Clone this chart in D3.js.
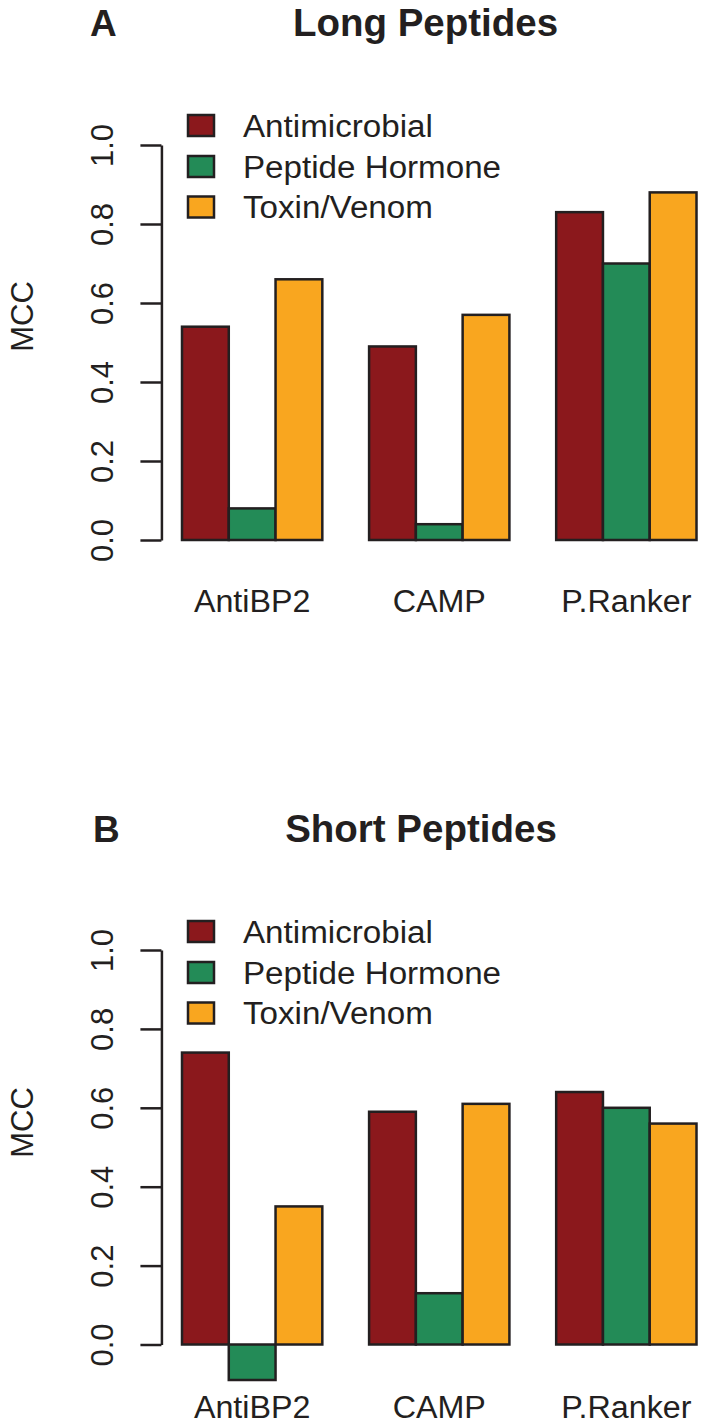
<!DOCTYPE html>
<html>
<head>
<meta charset="utf-8">
<script src="https://cdn.jsdelivr.net/npm/d3@7"></script>
<style>
  html, body { margin: 0; padding: 0; background: #fff; }
  svg { display: block; font-family: "Liberation Sans", Arial, Helvetica, sans-serif; }
</style>
</head>
<body>
<svg id="chart" width="706" height="1426"></svg>
<script>
// ---- data ----
const categories = ["AntiBP2", "CAMP", "P.Ranker"];
const seriesNames = ["Antimicrobial", "Peptide Hormone", "Toxin/Venom"];
const seriesColors = ["#8B181C", "#238B57", "#F9A61F"];

const longAntimicrobial = [0.54, 0.49, 0.83];
const longHormone       = [0.08, 0.04, 0.70];
const longToxin         = [0.66, 0.57, 0.88];

const shortAntimicrobial = [0.74, 0.59, 0.64];
const shortHormone       = [-0.09, 0.13, 0.60];
const shortToxin         = [0.35, 0.61, 0.56];

const yTicks = [0, 0.2, 0.4, 0.6, 0.8, 1.0];
const yLabel = "MCC";

const panels = [
  { letter: "A", title: "Long Peptides", values: [longAntimicrobial, longHormone, longToxin],
    y0: 540, y1: 145, titleX: 425.5, letterX: 90, top: 0 },
  { letter: "B", title: "Short Peptides", values: [shortAntimicrobial, shortHormone, shortToxin],
    y0: 1344.5, y1: 950, titleX: 421, letterX: 93, top: 806 }
];

// ---- drawing ----
const svg = d3.select("#chart");
const ink = "#231F20";
const x = d3.scaleLinear().domain([1, 12]).range([182, 696.5]);
const axisX = x(0.56);

panels.forEach(p => {
  const g = svg.append("g");
  const y = d3.scaleLinear().domain([0, 1]).range([p.y0, p.y1]);

  // titles
  g.append("text").attr("x", p.letterX).attr("y", p.top + 36)
    .attr("font-size", 37).attr("font-weight", "bold").attr("fill", ink).text(p.letter);
  g.append("text").attr("x", p.titleX).attr("y", p.top + 36)
    .attr("text-anchor", "middle")
    .attr("font-size", 38.5).attr("font-weight", "bold").attr("fill", ink).text(p.title);

  // bars
  const bars = [];
  p.values.forEach((vals, s) => {
    vals.forEach((v, c) => {
      bars.push({ s, c, v, left: 1 + c * 4 + s });
    });
  });
  g.selectAll("rect.bar").data(bars).join("rect")
    .attr("class", "bar")
    .attr("x", d => x(d.left))
    .attr("width", d => x(d.left + 1) - x(d.left))
    .attr("y", d => Math.min(y(d.v), y(0)))
    .attr("height", d => Math.abs(y(d.v) - y(0)))
    .attr("fill", d => seriesColors[d.s])
    .attr("stroke", ink).attr("stroke-width", 2.5);

  // y axis
  const axis = d3.axisLeft(y).tickValues(yTicks).tickSize(21).tickSizeOuter(0)
    .tickFormat(d3.format(".1f"));
  const ag = g.append("g").attr("transform", `translate(${axisX},0)`).call(axis);
  ag.select(".domain").attr("stroke", ink).attr("stroke-width", 2.5);
  ag.selectAll(".tick line").attr("stroke", ink).attr("stroke-width", 2.5);
  ag.selectAll(".tick text")
    .attr("transform", "rotate(-90)")
    .attr("x", 0).attr("y", -(axisX - 113)).attr("dy", 0)
    .attr("text-anchor", "middle")
    .attr("font-size", 31).attr("font-family", "'Liberation Sans', Arial, sans-serif")
    .attr("fill", ink);

  // y label
  const labelY = p.top + 316.5;
  g.append("text")
    .attr("transform", `translate(33,${labelY}) rotate(-90)`)
    .attr("text-anchor", "middle")
    .attr("font-size", 31).attr("fill", ink).text(yLabel);

  // category labels
  g.selectAll("text.cat").data(categories).join("text")
    .attr("class", "cat")
    .attr("transform", (d, i) =>
      `translate(${(x(1 + i * 4) + x(4 + i * 4)) / 2},${p.top + 612}) scale(1.04,1)`)
    .attr("text-anchor", "middle")
    .attr("font-size", 31).attr("fill", ink).text(d => d);

  // legend
  const rowY = [125.5, 166.5, 207];
  const lg = g.selectAll("g.leg").data(seriesNames).join("g").attr("class", "leg")
    .attr("transform", (d, i) => `translate(0,${p.top + rowY[i]})`);
  lg.append("rect").attr("x", 188).attr("y", -10.5).attr("width", 26).attr("height", 21)
    .attr("fill", (d, i) => seriesColors[i]).attr("stroke", ink).attr("stroke-width", 2.5);
  lg.append("text").attr("transform", "translate(243,11) scale(1.07,1)")
    .attr("font-size", 31).attr("fill", ink).text(d => d);
});
</script>
</body>
</html>
